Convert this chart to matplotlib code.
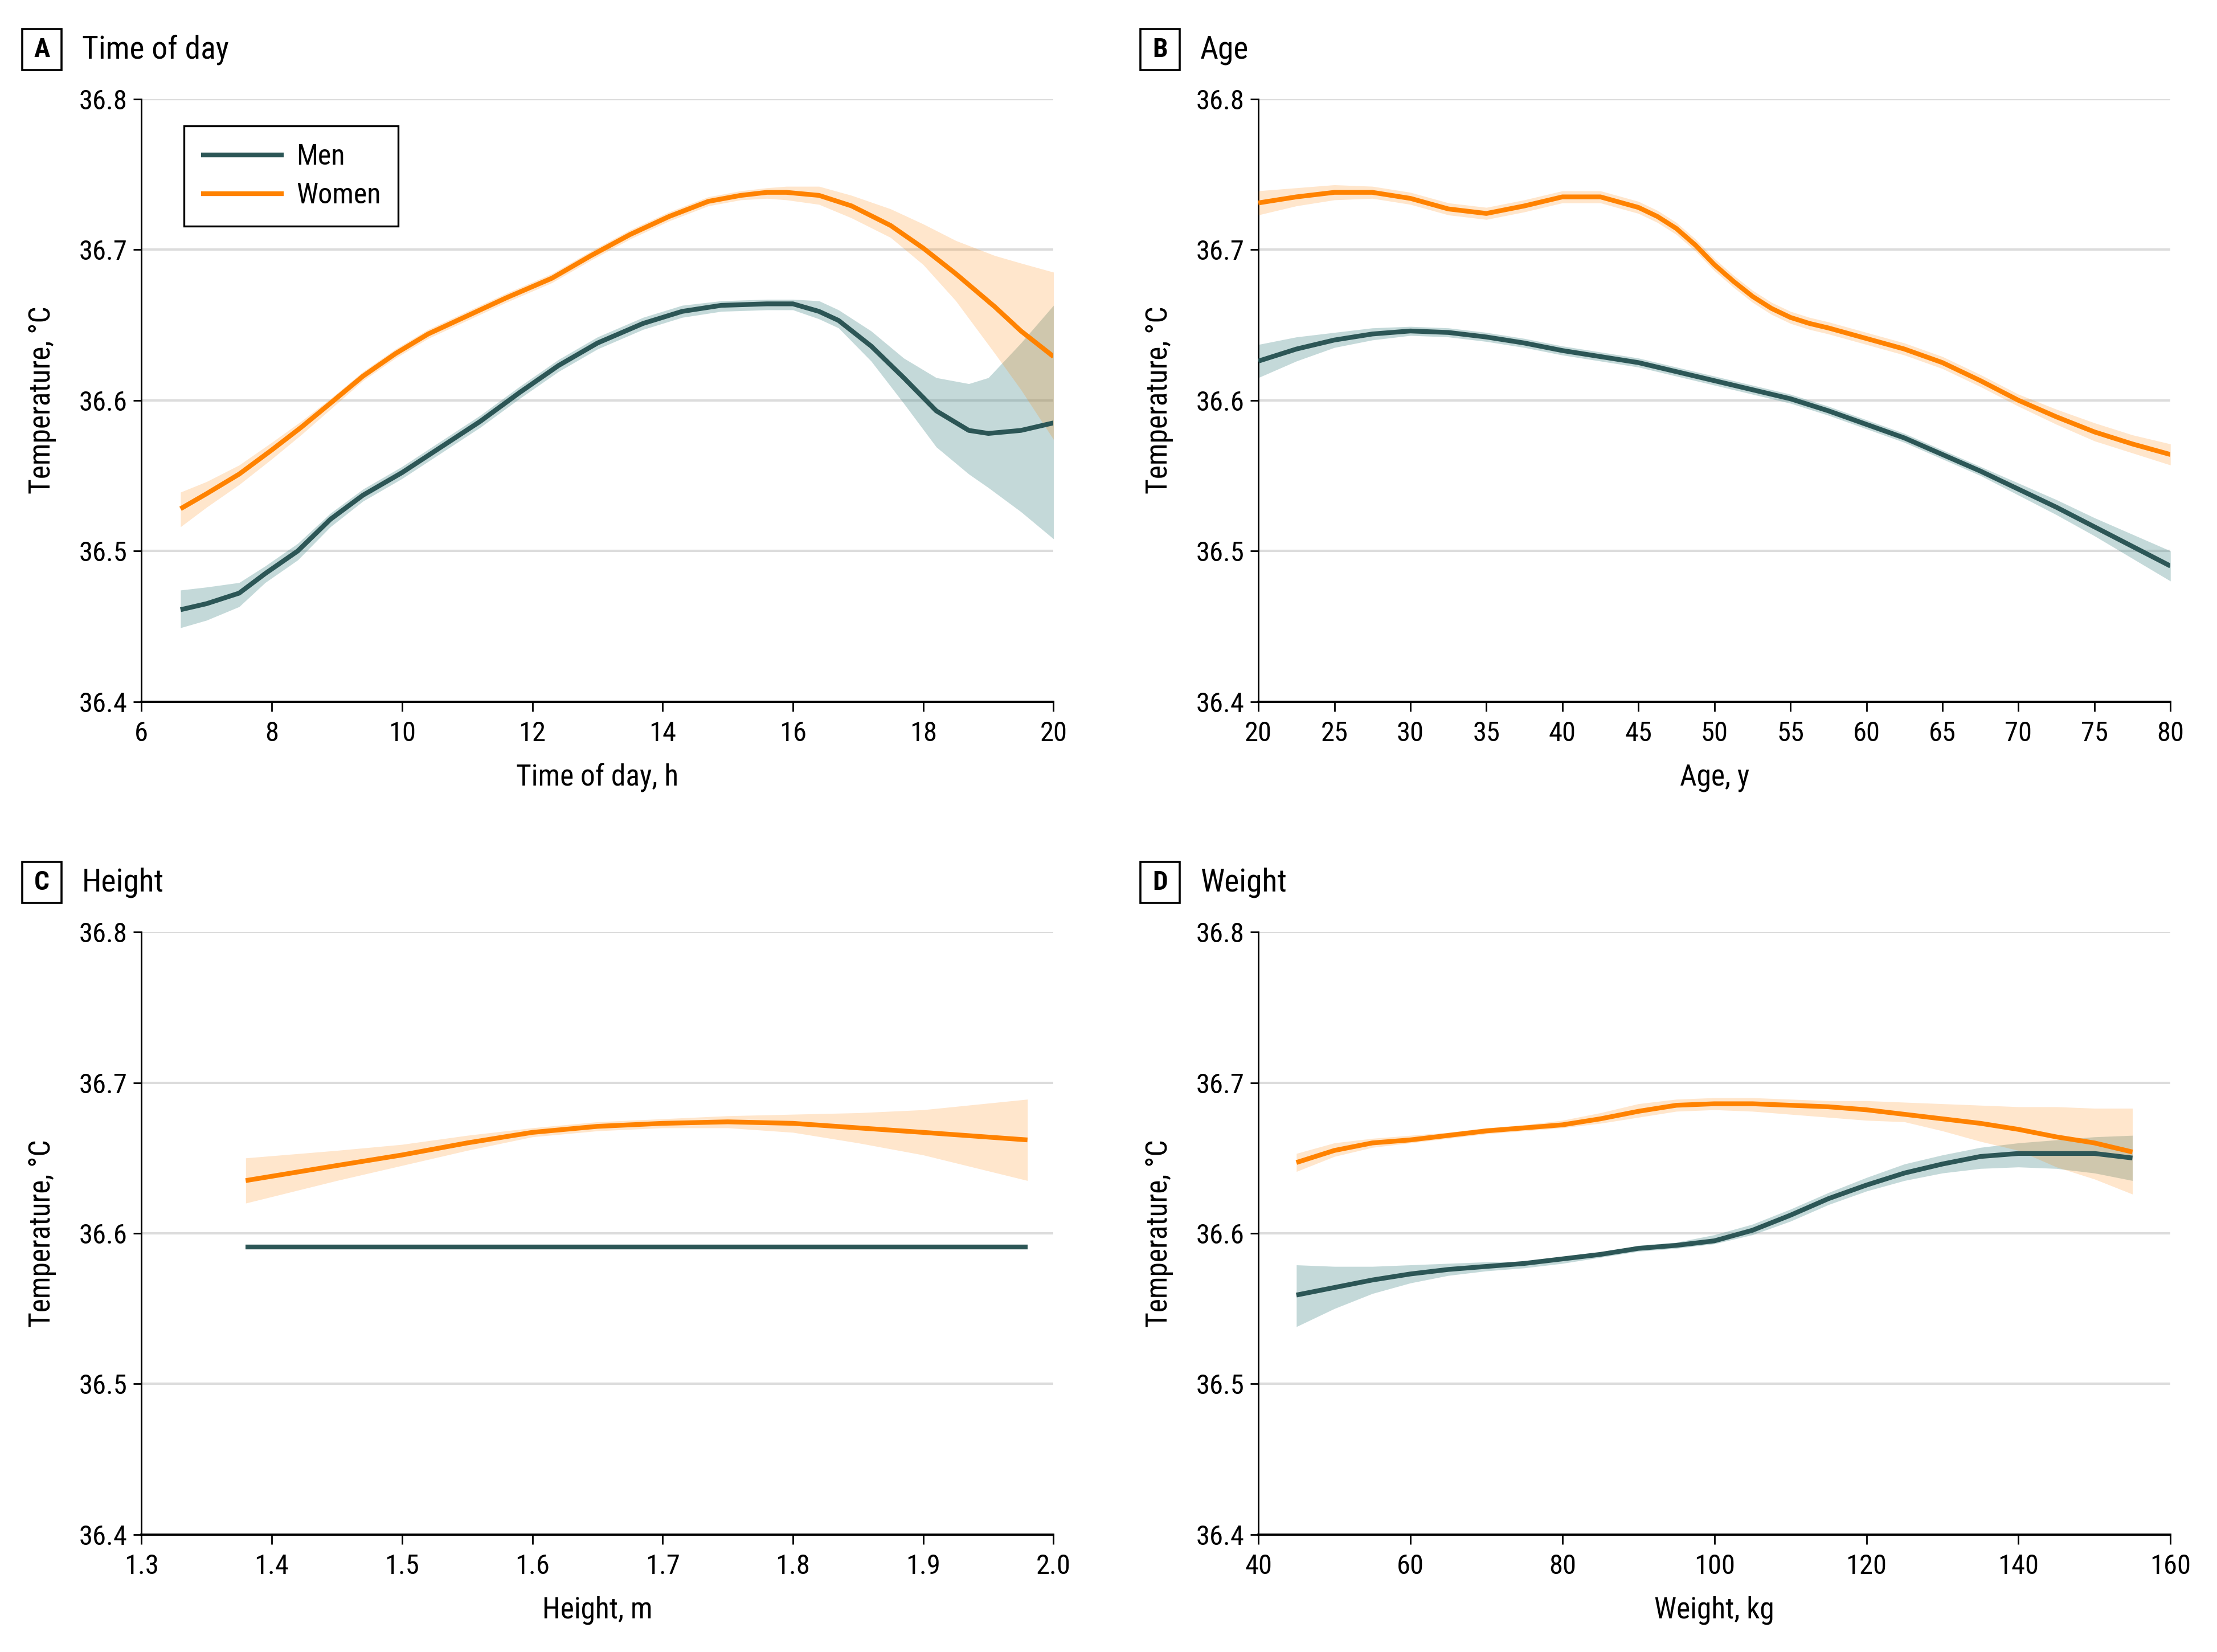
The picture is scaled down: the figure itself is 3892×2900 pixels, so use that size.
import numpy as np
import matplotlib
matplotlib.use("Agg")
import matplotlib.pyplot as plt
from matplotlib import font_manager
from matplotlib.patches import Rectangle

# pick a condensed-ish font if available
names = set(f.name for f in font_manager.fontManager.ttflist)
fam = [n for n in ["Liberation Sans Narrow", "Roboto Condensed", "Open Sans Condensed"] if n in names]
plt.rcParams['font.family'] = fam + ['Liberation Sans', 'DejaVu Sans']

MEN_C = "#2c5656"
WOMEN_C = "#ff8200"
MEN_BAND = "#3e8484"
WOMEN_BAND = "#ff8200"

# ---- A: time of day ----
a_men_x = [6.6, 7.0, 7.5, 7.9, 8.4, 8.9, 9.4, 10.0, 10.6, 11.2, 11.8, 12.4, 13.0, 13.7, 14.3, 14.9, 15.6,
           16.0, 16.4, 16.7, 17.2, 17.7, 18.2, 18.7, 19.0, 19.5, 20.0]
a_men = [36.461, 36.465, 36.472, 36.485, 36.500, 36.521, 36.537, 36.552, 36.569, 36.586, 36.605, 36.623,
         36.638, 36.651, 36.659, 36.663, 36.664, 36.664, 36.659, 36.653, 36.636, 36.615, 36.593, 36.580,
         36.578, 36.580, 36.585]
a_men_hi = [36.474, 36.476, 36.479, 36.490, 36.505, 36.525, 36.541, 36.556, 36.573, 36.590, 36.609, 36.627,
            36.642, 36.655, 36.663, 36.666, 36.667, 36.667, 36.666, 36.660, 36.646, 36.628, 36.615, 36.611,
            36.615, 36.638, 36.663]
a_men_lo = [36.449, 36.454, 36.463, 36.479, 36.494, 36.516, 36.533, 36.548, 36.565, 36.582, 36.601, 36.619,
            36.634, 36.647, 36.655, 36.659, 36.660, 36.660, 36.654, 36.648, 36.626, 36.598, 36.569, 36.551,
            36.542, 36.526, 36.508]
a_women_x = [6.6, 7.0, 7.5, 8.0, 8.45, 8.9, 9.4, 9.9, 10.4, 11.0, 11.6, 12.3, 12.9, 13.5, 14.1, 14.7, 15.2,
             15.6, 15.9, 16.4, 16.9, 17.5, 18.0, 18.5, 19.1, 19.5, 20.0]
a_women = [36.528, 36.538, 36.551, 36.567, 36.582, 36.598, 36.616, 36.631, 36.644, 36.656, 36.668, 36.681,
           36.696, 36.710, 36.722, 36.732, 36.736, 36.738, 36.738, 36.736, 36.729, 36.716, 36.701, 36.684,
           36.662, 36.646, 36.629]
a_women_hi = [36.539, 36.546, 36.557, 36.572, 36.586, 36.601, 36.619, 36.634, 36.647, 36.659, 36.671, 36.684,
              36.699, 36.713, 36.725, 36.735, 36.739, 36.741, 36.742, 36.742, 36.736, 36.727, 36.717, 36.706,
              36.696, 36.691, 36.685]
a_women_lo = [36.516, 36.529, 36.544, 36.561, 36.577, 36.594, 36.613, 36.628, 36.641, 36.653, 36.665, 36.678,
              36.693, 36.707, 36.719, 36.729, 36.733, 36.734, 36.733, 36.730, 36.721, 36.708, 36.690, 36.666,
              36.631, 36.607, 36.574]

# ---- B: age ----
b_men_x = [20, 22.5, 25, 27.5, 30, 32.5, 35, 37.5, 40, 42.5, 45, 47.5, 50, 52.5, 55, 57.5, 60, 62.5, 65, 67.5,
           70, 72.5, 75, 77.5, 80]
b_men = [36.626, 36.634, 36.640, 36.644, 36.646, 36.645, 36.642, 36.638, 36.633, 36.629, 36.625, 36.619,
         36.613, 36.607, 36.601, 36.593, 36.584, 36.575, 36.564, 36.553, 36.541, 36.529, 36.516, 36.503, 36.490]
b_men_hi = [36.637, 36.642, 36.645, 36.648, 36.649, 36.648, 36.645, 36.641, 36.636, 36.632, 36.628, 36.622,
            36.616, 36.610, 36.604, 36.596, 36.587, 36.578, 36.567, 36.556, 36.545, 36.534, 36.522, 36.511, 36.500]
b_men_lo = [36.615, 36.626, 36.635, 36.640, 36.643, 36.642, 36.639, 36.635, 36.630, 36.626, 36.622, 36.616,
            36.610, 36.604, 36.598, 36.590, 36.581, 36.572, 36.561, 36.550, 36.537, 36.524, 36.510, 36.495, 36.480]
b_women_x = [20, 22.5, 25, 27.5, 30, 32.5, 35, 37.5, 40, 42.5, 45, 46.25, 47.5, 48.75, 50, 51.25, 52.5, 53.75,
             55, 56.25, 57.5, 60, 62.5, 65, 67.5, 70, 72.5, 75, 77.5, 80]
b_women = [36.731, 36.735, 36.738, 36.738, 36.734, 36.727, 36.724, 36.729, 36.735, 36.735, 36.728, 36.722,
           36.714, 36.703, 36.690, 36.679, 36.669, 36.661, 36.655, 36.651, 36.648, 36.641, 36.634, 36.625,
           36.613, 36.600, 36.589, 36.579, 36.571, 36.564]
b_women_hi = [36.739, 36.741, 36.743, 36.742, 36.738, 36.731, 36.728, 36.733, 36.739, 36.739, 36.732, 36.726,
              36.718, 36.707, 36.694, 36.683, 36.673, 36.665, 36.659, 36.655, 36.652, 36.645, 36.638, 36.629,
              36.617, 36.604, 36.594, 36.585, 36.577, 36.571]
b_women_lo = [36.723, 36.729, 36.733, 36.734, 36.730, 36.723, 36.720, 36.725, 36.731, 36.731, 36.724, 36.718,
              36.710, 36.699, 36.686, 36.675, 36.665, 36.657, 36.651, 36.647, 36.644, 36.637, 36.630, 36.621,
              36.609, 36.596, 36.584, 36.573, 36.565, 36.557]

# ---- C: height ----
c_men_x = [1.38, 1.98]
c_men = [36.591, 36.591]
c_men_hi = [36.592, 36.592]
c_men_lo = [36.590, 36.590]
c_x = [1.38, 1.45, 1.5, 1.55, 1.6, 1.65, 1.7, 1.75, 1.8, 1.85, 1.9, 1.98]
c_women = [36.635, 36.645, 36.652, 36.660, 36.667, 36.671, 36.673, 36.674, 36.673, 36.670, 36.667, 36.662]
c_women_hi = [36.650, 36.655, 36.659, 36.665, 36.670, 36.674, 36.676, 36.678, 36.679, 36.680, 36.682, 36.689]
c_women_lo = [36.620, 36.635, 36.645, 36.655, 36.664, 36.668, 36.670, 36.670, 36.667, 36.660, 36.652, 36.635]

# ---- D: weight ----
d_x = [45, 50, 55, 60, 65, 70, 75, 80, 85, 90, 95, 100, 105, 110, 115, 120, 125, 130, 135, 140, 145, 150, 155]
d_men = [36.559, 36.564, 36.569, 36.573, 36.576, 36.578, 36.580, 36.583, 36.586, 36.590, 36.592, 36.595,
         36.602, 36.612, 36.623, 36.632, 36.640, 36.646, 36.651, 36.653, 36.653, 36.653, 36.650]
d_men_hi = [36.579, 36.578, 36.578, 36.579, 36.580, 36.581, 36.581, 36.582, 36.586, 36.592, 36.594, 36.599,
            36.606, 36.616, 36.627, 36.637, 36.646, 36.652, 36.657, 36.660, 36.662, 36.664, 36.665]
d_men_lo = [36.538, 36.550, 36.560, 36.567, 36.572, 36.575, 36.577, 36.580, 36.584, 36.588, 36.590, 36.593,
            36.599, 36.608, 36.619, 36.628, 36.635, 36.640, 36.643, 36.644, 36.643, 36.640, 36.635]
d_women = [36.647, 36.655, 36.660, 36.662, 36.665, 36.668, 36.670, 36.672, 36.676, 36.681, 36.685, 36.686,
           36.686, 36.685, 36.684, 36.682, 36.679, 36.676, 36.673, 36.669, 36.664, 36.660, 36.654]
d_women_hi = [36.653, 36.660, 36.663, 36.665, 36.667, 36.670, 36.672, 36.675, 36.680, 36.686, 36.689, 36.690,
              36.690, 36.689, 36.688, 36.688, 36.687, 36.686, 36.685, 36.684, 36.684, 36.683, 36.683]
d_women_lo = [36.641, 36.651, 36.657, 36.660, 36.663, 36.666, 36.668, 36.670, 36.673, 36.677, 36.681, 36.682,
              36.681, 36.679, 36.677, 36.675, 36.674, 36.668, 36.661, 36.655, 36.644, 36.636, 36.626]

panels = [
    ("A", "Time of day", "Time of day, h", (6, 20), np.arange(6, 21, 2), None,
     (a_men_x, a_men, a_men_lo, a_men_hi), (a_women_x, a_women, a_women_lo, a_women_hi)),
    ("B", "Age", "Age, y", (20, 80), np.arange(20, 81, 5), None,
     (b_men_x, b_men, b_men_lo, b_men_hi), (b_women_x, b_women, b_women_lo, b_women_hi)),
    ("C", "Height", "Height, m", (1.3, 2.0), np.round(np.arange(1.3, 2.01, 0.1), 1), "{:.1f}",
     (c_men_x, c_men, c_men_lo, c_men_hi), (c_x, c_women, c_women_lo, c_women_hi)),
    ("D", "Weight", "Weight, kg", (40, 160), np.arange(40, 161, 20), None,
     (d_x, d_men, d_men_lo, d_men_hi), (d_x, d_women, d_women_lo, d_women_hi)),
]

positions = [[0.0638, 0.5753, 0.4114, 0.3648], [0.5676, 0.5753, 0.4114, 0.3648],
             [0.0638, 0.0711, 0.4114, 0.3647], [0.5676, 0.0711, 0.4114, 0.3647]]
label_pos = [(0.0189, 0.9700), (0.5233, 0.9700), (0.0189, 0.4659), (0.5233, 0.4659)]
title_dx = 0.0181
box_w, box_h = 0.0178, 0.0246

fig = plt.figure(figsize=(19.46, 14.5), dpi=200)

for i, (letter, title, xlabel, xlim, xticks, fmt, men, women) in enumerate(panels):
    ax = fig.add_axes(positions[i])
    mx, my, mlo, mhi = men
    wx, wy, wlo, whi = women
    ax.fill_between(mx, mlo, mhi, color=MEN_BAND, alpha=0.3, lw=0, zorder=2)
    ax.fill_between(wx, wlo, whi, color=WOMEN_BAND, alpha=0.2, lw=0, zorder=3)
    ax.plot(mx, my, color=MEN_C, lw=3.0, label="Men", zorder=4, solid_capstyle="butt")
    ax.plot(wx, wy, color=WOMEN_C, lw=3.0, label="Women", zorder=5, solid_capstyle="butt")

    ax.set_xlim(*xlim)
    ax.set_ylim(36.4, 36.8)
    ax.set_yticks([36.4, 36.5, 36.6, 36.7, 36.8])
    ax.set_yticklabels(["36.4", "36.5", "36.6", "36.7", "36.8"])
    ax.set_xticks(xticks)
    if fmt:
        ax.set_xticklabels([fmt.format(t) for t in xticks])
    ax.grid(axis="y", color="#dcdcdc", lw=1.5, zorder=0)
    ax.set_axisbelow(True)
    for s in ["top", "right"]:
        ax.spines[s].set_visible(False)
    ax.spines["left"].set_linewidth(1.0)
    ax.spines["bottom"].set_linewidth(1.4)
    ax.tick_params(axis="x", labelsize=17.5, length=6, width=1.0, direction="out", pad=6)
    ax.tick_params(axis="y", labelsize=17.5, length=5, width=1.0, direction="out", pad=4)
    ax.set_xlabel(xlabel, fontsize=18.5)
    ax.set_ylabel("Temperature, °C", fontsize=18.5)
    ax.xaxis.set_label_coords(0.5, -0.102)
    ax.yaxis.set_label_coords(-0.093, 0.5)

    lx, ly = label_pos[i]
    fig.patches.append(Rectangle((lx - box_w / 2, ly - box_h / 2), box_w, box_h, transform=fig.transFigure,
                                 fill=False, ec="black", lw=1.3))
    fig.text(lx, ly, letter, fontsize=17, fontweight="bold", ha="center", va="center")
    fig.text(lx + title_dx, ly, title, fontsize=20, ha="left", va="center")

    if i == 0:
        leg = ax.legend(loc="upper left", bbox_to_anchor=(0.0465, 0.955), borderaxespad=0,
                        fancybox=False, edgecolor="black", framealpha=1, fontsize=18,
                        handlelength=2.9, handletextpad=0.45, borderpad=0.6, labelspacing=0.4)
        leg.get_frame().set_linewidth(1.2)

fig.savefig("out.png", dpi=200, facecolor="white")
